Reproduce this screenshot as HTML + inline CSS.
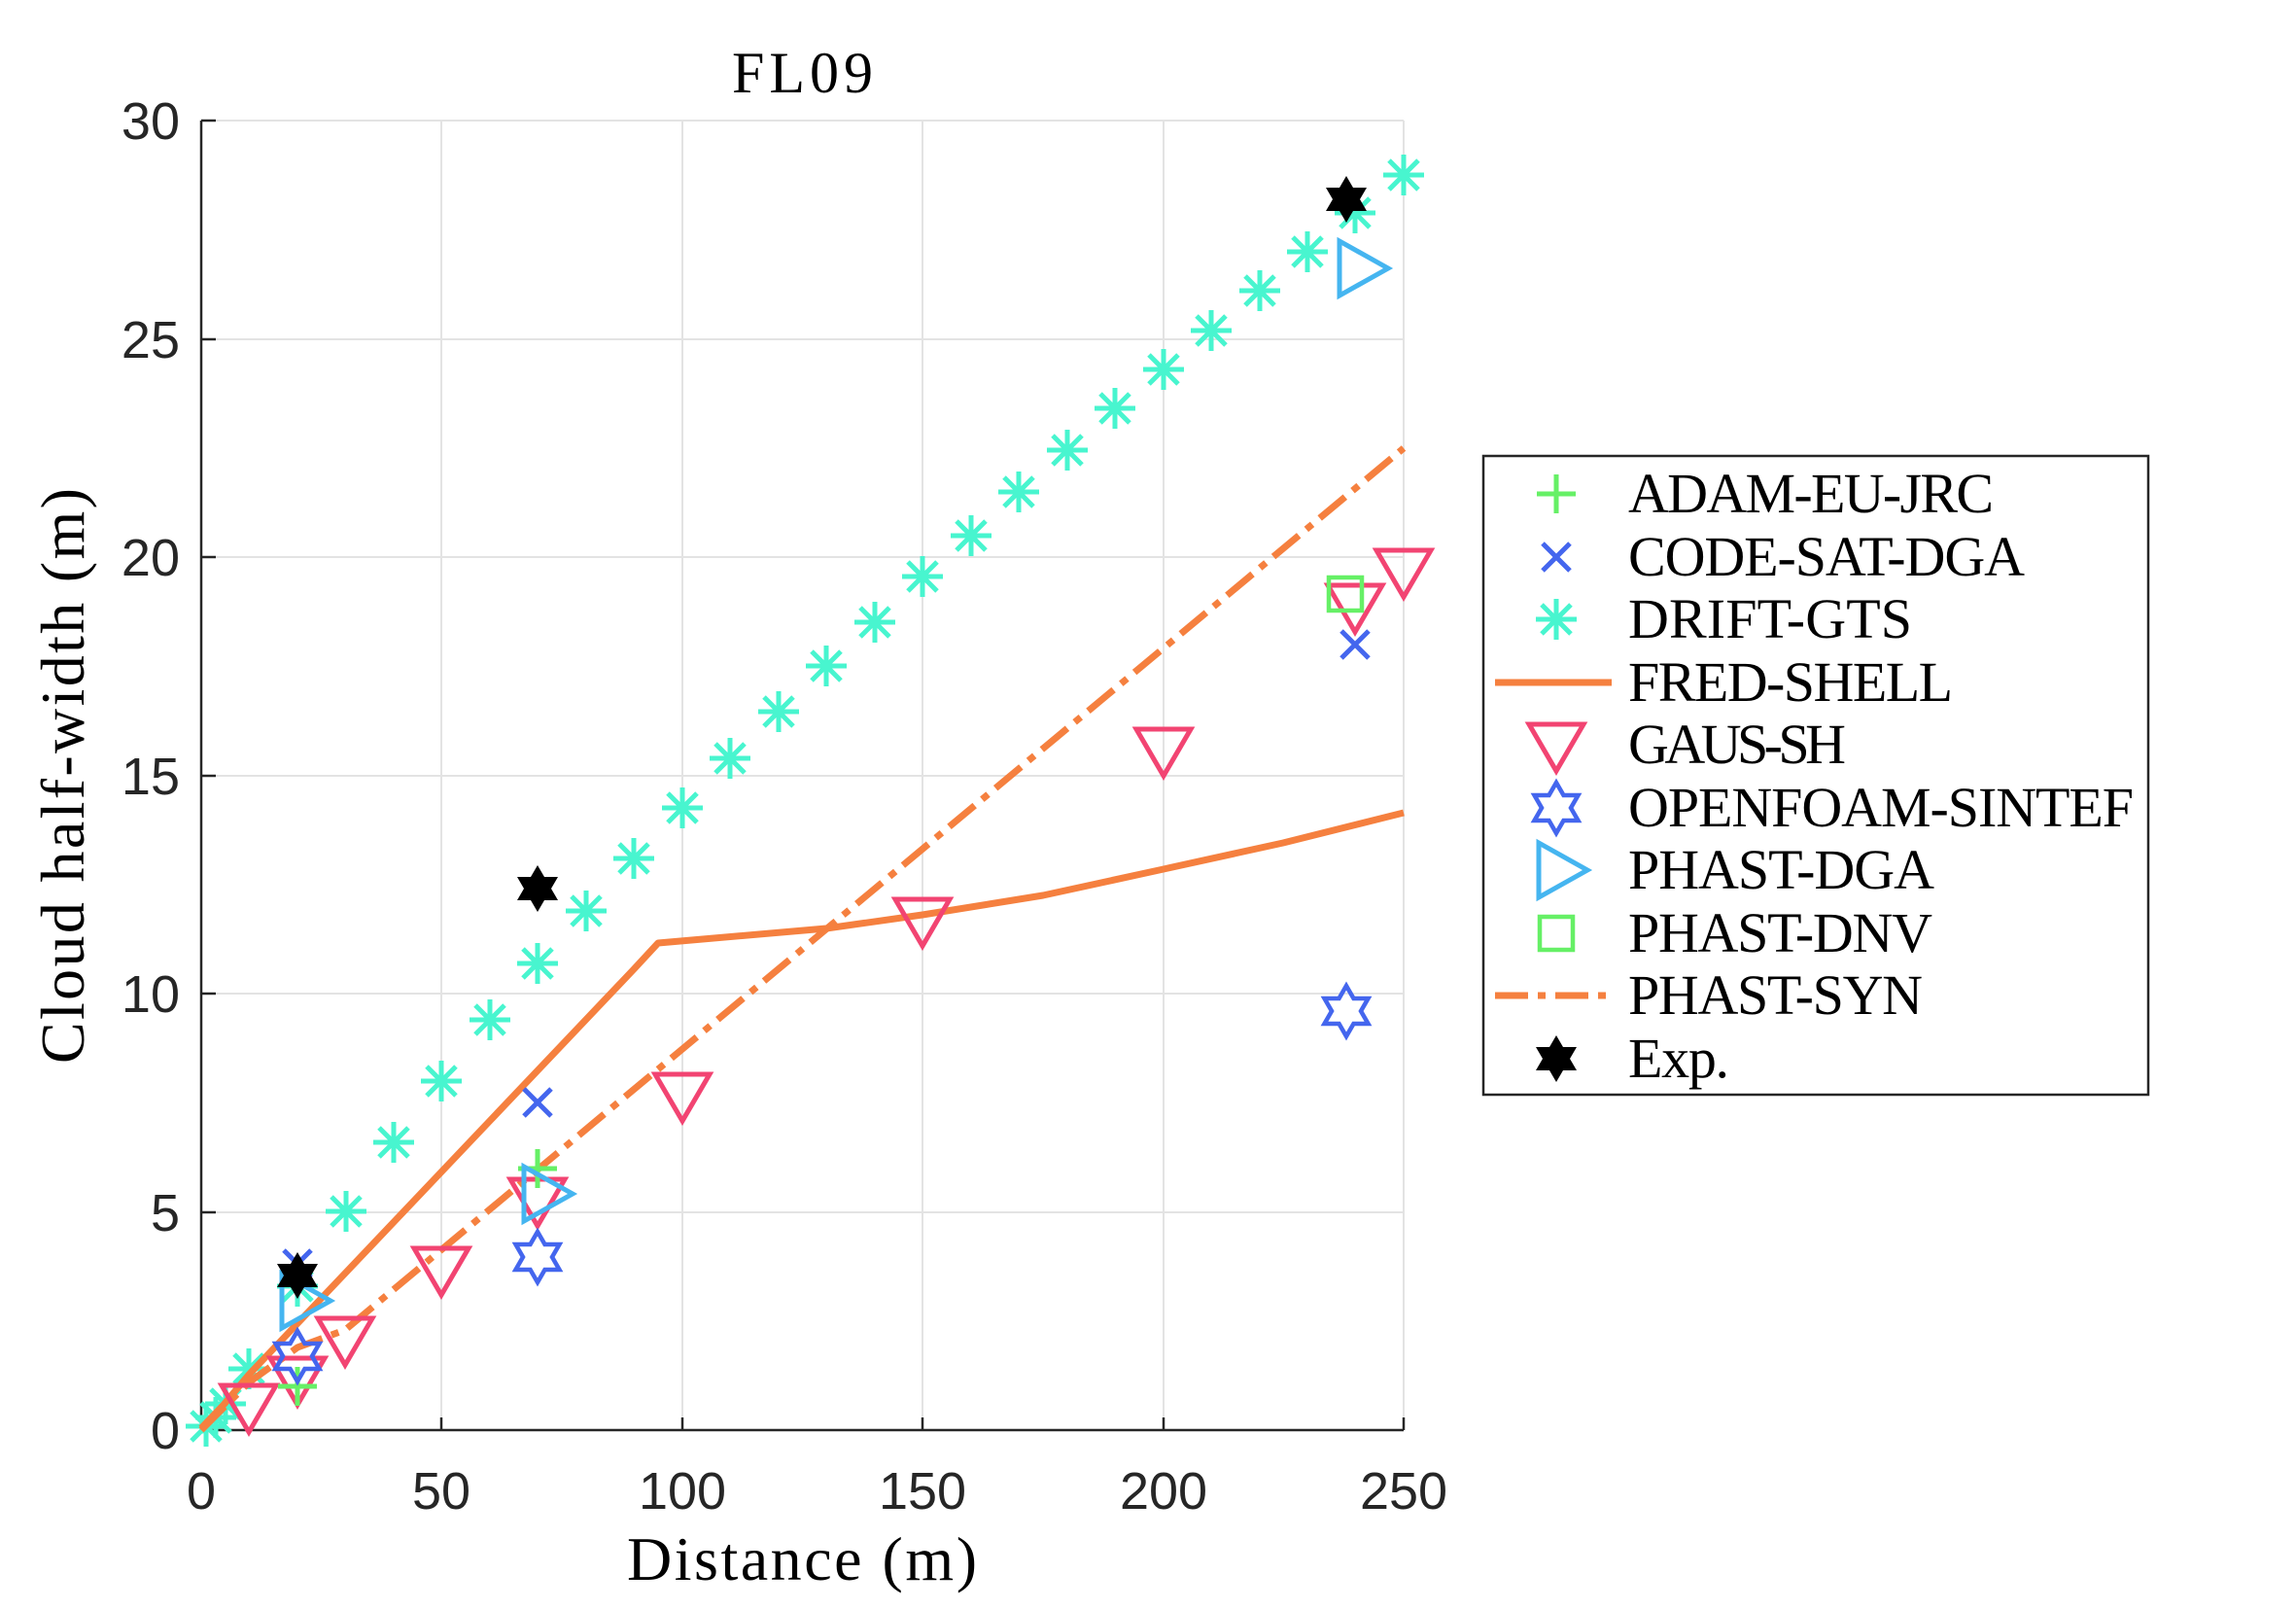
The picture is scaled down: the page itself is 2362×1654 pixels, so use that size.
<!DOCTYPE html>
<html><head><meta charset="utf-8"><style>
html,body{margin:0;padding:0;background:#fff;}
svg{display:block;}
.tk{font-family:"Liberation Sans",sans-serif;font-size:54px;fill:#262626;}
.sf{font-family:"Liberation Serif",serif;fill:#000;}
</style></head><body>
<svg width="2362" height="1654" viewBox="0 0 2362 1654" xmlns="http://www.w3.org/2000/svg">
<defs>
<g id="ast" stroke="#48f5cf" stroke-width="5" fill="none"><line x1="0" y1="-21" x2="0" y2="21"/><line x1="-21" y1="0" x2="21" y2="0"/><line x1="-15" y1="-15" x2="15" y2="15"/><line x1="-15" y1="15" x2="15" y2="-15"/></g>
<polygon id="tdn" points="-28,-16 28,-16 0,32" fill="none" stroke="#f24472" stroke-width="5"/>
<polygon id="trt" points="-16,-28 34,0 -16,28" fill="none" stroke="#45b5f0" stroke-width="5"/>
<g id="xm" stroke="#4466ee" stroke-width="5"><line x1="-14" y1="-14" x2="14" y2="14"/><line x1="-14" y1="14" x2="14" y2="-14"/></g>
<g id="pl" stroke="#66f066" stroke-width="5"><line x1="0" y1="-20" x2="0" y2="20"/><line x1="-20" y1="0" x2="20" y2="0"/></g>
<polygon id="hexo" points="0,-26 7.5,-13 22.5,-13 15,0 22.5,13 7.5,13 0,26 -7.5,13 -22.5,13 -15,0 -22.5,-13 -7.5,-13" fill="none" stroke="#4466ee" stroke-width="4.5"/>
<polygon id="hexf" points="0,-24 7,-12 21,-12 14,0 21,12 7,12 0,24 -7,12 -21,12 -14,0 -21,-12 -7,-12" fill="#000"/>
<rect id="sq" x="-17" y="-17" width="34" height="34" fill="none" stroke="#66f066" stroke-width="4.5"/>
</defs>
<g stroke="#e3e3e3" stroke-width="2">
<line x1="454" y1="124" x2="454" y2="1471"/><line x1="702" y1="124" x2="702" y2="1471"/><line x1="949" y1="124" x2="949" y2="1471"/><line x1="1197" y1="124" x2="1197" y2="1471"/><line x1="1444" y1="124" x2="1444" y2="1471"/>
<line x1="207" y1="124" x2="1444" y2="124"/><line x1="207" y1="349" x2="1444" y2="349"/><line x1="207" y1="573" x2="1444" y2="573"/><line x1="207" y1="798" x2="1444" y2="798"/><line x1="207" y1="1022" x2="1444" y2="1022"/><line x1="207" y1="1247" x2="1444" y2="1247"/>
</g>
<g stroke="#262626" stroke-width="2.5" fill="none">
<polyline points="207,124 207,1471 1444,1471"/>
<line x1="454" y1="1471" x2="454" y2="1458"/><line x1="702" y1="1471" x2="702" y2="1458"/><line x1="949" y1="1471" x2="949" y2="1458"/><line x1="1197" y1="1471" x2="1197" y2="1458"/><line x1="1444" y1="1471" x2="1444" y2="1458"/>
<line x1="207" y1="124" x2="222" y2="124"/><line x1="207" y1="349" x2="222" y2="349"/><line x1="207" y1="573" x2="222" y2="573"/><line x1="207" y1="798" x2="222" y2="798"/><line x1="207" y1="1022" x2="222" y2="1022"/><line x1="207" y1="1247" x2="222" y2="1247"/>
</g>
<g class="tk" text-anchor="end">
<text x="185" y="1490">0</text><text x="185" y="1266">5</text><text x="185" y="1041">10</text><text x="185" y="817">15</text><text x="185" y="592">20</text><text x="185" y="368">25</text><text x="185" y="143">30</text>
</g>
<g class="tk" text-anchor="middle">
<text x="207" y="1552">0</text><text x="454" y="1552">50</text><text x="702" y="1552">100</text><text x="949" y="1552">150</text><text x="1197" y="1552">200</text><text x="1444" y="1552">250</text>
</g>
<text class="sf" x="753" y="95" font-size="60" textLength="145">FL09</text>
<text class="sf" x="645" y="1625" font-size="64" textLength="360" fill="#262626">Distance (m)</text>
<text class="sf" transform="translate(86,798) rotate(-90)" text-anchor="middle" font-size="64" textLength="592" fill="#262626">Cloud half-width (m)</text>
<g>
<use href="#ast" x="212" y="1467"/><use href="#ast" x="222" y="1458"/><use href="#ast" x="232" y="1444"/><use href="#ast" x="256" y="1408"/><use href="#ast" x="306" y="1323"/><use href="#ast" x="356" y="1246"/><use href="#ast" x="405" y="1175"/><use href="#ast" x="454" y="1112"/><use href="#ast" x="504" y="1049"/><use href="#ast" x="553" y="991"/><use href="#ast" x="603" y="937"/><use href="#ast" x="652" y="883"/><use href="#ast" x="702" y="831"/><use href="#ast" x="751" y="780"/><use href="#ast" x="801" y="732"/><use href="#ast" x="850" y="685"/><use href="#ast" x="900" y="640"/><use href="#ast" x="949" y="593"/><use href="#ast" x="999" y="551"/><use href="#ast" x="1048" y="506"/><use href="#ast" x="1098" y="463"/><use href="#ast" x="1147" y="420"/><use href="#ast" x="1197" y="380"/><use href="#ast" x="1246" y="340"/><use href="#ast" x="1296" y="299"/><use href="#ast" x="1345" y="259"/><use href="#ast" x="1394" y="219"/><use href="#ast" x="1444" y="180"/>
</g>
<polyline points="207,1469 230,1445 256,1414 652,997 677,970 850,955 949,941 1073,921 1197,894 1320,867 1444,836" fill="none" stroke="#f5803f" stroke-width="7" stroke-linejoin="round"/>
<polyline points="207,1471 256,1422 306,1386 355,1368 1444,461" fill="none" stroke="#f5803f" stroke-width="7" stroke-dasharray="34,10,8,10"/>
<use href="#tdn" x="256" y="1441"/><use href="#tdn" x="306" y="1413"/><use href="#tdn" x="355" y="1372"/><use href="#tdn" x="454" y="1300"/><use href="#tdn" x="553" y="1229"/><use href="#tdn" x="702" y="1121"/><use href="#tdn" x="949" y="941"/><use href="#tdn" x="1197" y="766"/><use href="#tdn" x="1394" y="618"/><use href="#tdn" x="1444" y="582"/>
<use href="#pl" x="306" y="1426"/><use href="#pl" x="553" y="1202"/>
<use href="#xm" x="306" y="1300"/><use href="#xm" x="553" y="1134"/><use href="#xm" x="1394" y="663"/>
<use href="#hexo" x="306" y="1395"/><use href="#hexo" x="553" y="1293"/><use href="#hexo" x="1385" y="1040"/>
<use href="#trt" x="306" y="1338"/><use href="#trt" x="555" y="1228"/><use href="#trt" x="1394" y="276"/>
<use href="#sq" x="1384" y="611"/>
<use href="#hexf" x="306" y="1312"/><use href="#hexf" x="553" y="914"/><use href="#hexf" x="1385" y="205"/>
<rect x="1526" y="469" width="684" height="657" fill="#fff" stroke="#262626" stroke-width="2.5"/>
<use href="#pl" x="1601" y="508"/>
<use href="#xm" x="1601" y="573"/>
<use href="#ast" x="1601" y="637"/>
<line x1="1538" y1="702" x2="1658" y2="702" stroke="#f5803f" stroke-width="7"/>
<use href="#tdn" x="1601" y="761"/>
<use href="#hexo" x="1601" y="831"/>
<use href="#trt" x="1599" y="895"/>
<use href="#sq" x="1601" y="960"/>
<line x1="1538" y1="1024" x2="1658" y2="1024" stroke="#f5803f" stroke-width="7" stroke-dasharray="34,10,8,10"/>
<use href="#hexf" x="1601" y="1089"/>
<g class="sf" font-size="58">
<text x="1675" y="527" textLength="376">ADAM-EU-JRC</text>
<text x="1675" y="592" textLength="408">CODE-SAT-DGA</text>
<text x="1675" y="656" textLength="292">DRIFT-GTS</text>
<text x="1675" y="721" textLength="334">FRED-SHELL</text>
<text x="1675" y="785" textLength="224">GAUS-SH</text>
<text x="1675" y="850" textLength="520">OPENFOAM-SINTEF</text>
<text x="1675" y="914" textLength="315">PHAST-DGA</text>
<text x="1675" y="979" textLength="313">PHAST-DNV</text>
<text x="1675" y="1043" textLength="303">PHAST-SYN</text>
<text x="1675" y="1108" textLength="104">Exp.</text>
</g>
</svg>
</body></html>
